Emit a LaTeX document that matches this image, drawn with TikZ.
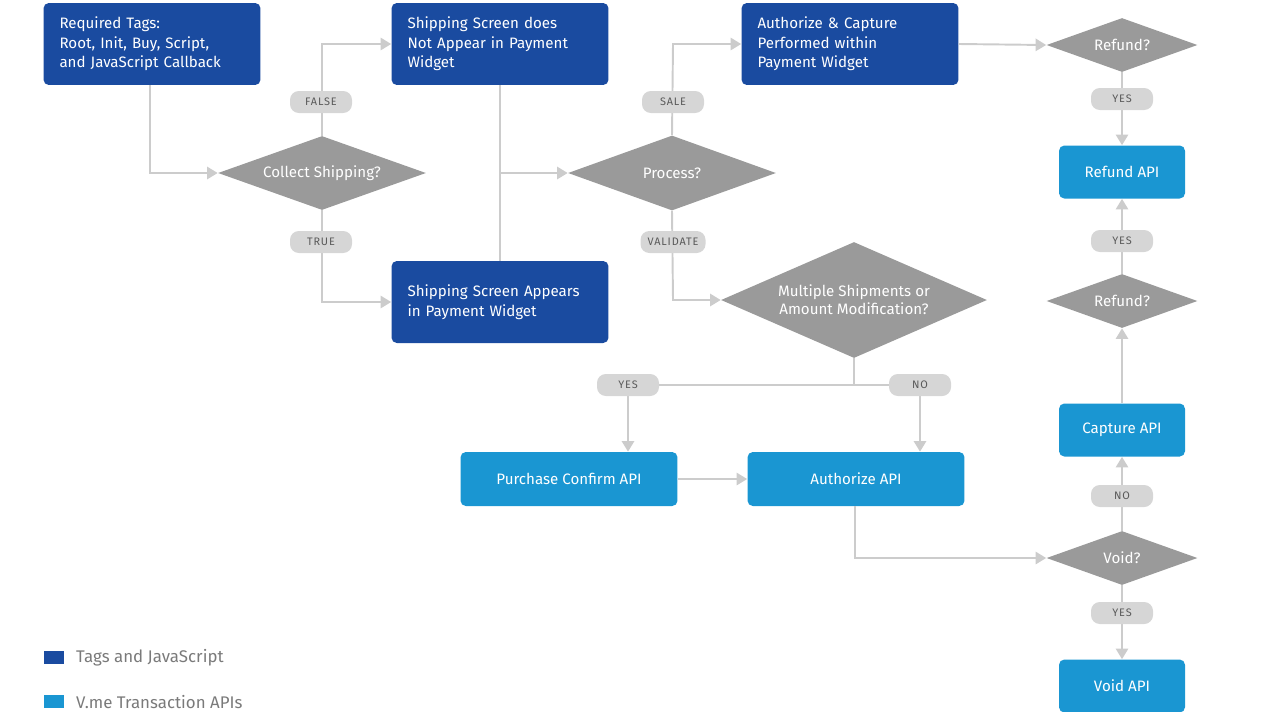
\documentclass[tikz,border=0pt]{standalone}
\usepackage{fontspec}
\setmainfont{Fira Sans}
\usetikzlibrary{shapes.geometric,arrows.meta}

\definecolor{tagblue}{HTML}{1A4BA0}
\definecolor{apiblue}{HTML}{1A96D2}
\definecolor{decgray}{HTML}{9A9A9A}
\definecolor{linegray}{HTML}{CCCCCC}
\definecolor{pillgray}{HTML}{D6D6D6}
\definecolor{pilltext}{HTML}{5A5A5A}
\definecolor{legtext}{HTML}{7A7A7A}

\tikzset{
  box/.style={rectangle, rounded corners=3pt, text=white, inner sep=0pt,
    font=\fontsize{8.6}{11.2}\selectfont},
  tagbox/.style={box, fill=tagblue, minimum width=4.34cm, minimum height=1.64cm,
    text width=3.7cm, align=left},
  apibox/.style={box, fill=apiblue, minimum width=4.34cm, minimum height=1.08cm, align=center},
  smallapi/.style={box, fill=apiblue, minimum width=2.52cm, minimum height=1.06cm, align=center},
  decision/.style={diamond, fill=decgray, text=white, inner sep=0pt, aspect=2.8,
    font=\fontsize{8.6}{10.4}\selectfont, align=center},
  pill/.style={rectangle, rounded corners=5pt, fill=pillgray, text=pilltext,
    minimum width=1.24cm, minimum height=0.44cm, inner xsep=4pt,
    font=\fontsize{6.2}{7}\selectfont\addfontfeatures{LetterSpace=8}},
  link/.style={draw=linegray, line width=1.1pt},
  flow/.style={link, -{Triangle[width=7pt,length=6pt]}},
  legend/.style={font=\fontsize{9.6}{12}\selectfont, text=legtext, anchor=west}
}

\begin{document}
\begin{tikzpicture}[x=0.02cm, y=-0.02cm]

	\useasboundingbox (0,0) rectangle (1263,711);

	% tag and javascript boxes
	\node[tagbox] (tags) at (152,44) {Required Tags:\\Root, Init, Buy, Script,\\and JavaScript Callback};
	\node[tagbox] (noship) at (500,44) {Shipping Screen does\\Not Appear in Payment\\Widget};
	\node[tagbox] (authcap) at (850,44) {Authorize \& Capture\\Performed within\\Payment Widget};
	\node[tagbox] (ship) at (500,302) {Shipping Screen Appears\\in Payment Widget};

	% decisions
	\node[decision, minimum width=4.16cm, minimum height=1.48cm] (collect) at (322,173) {Collect Shipping?};
	\node[decision, minimum width=4.16cm, minimum height=1.5cm] (process) at (672,173) {Process?};
	\node[decision, minimum width=5.32cm, minimum height=2.32cm] (multi) at (854,300) {Multiple Shipments or\\Amount Modification?};
	\node[decision, minimum width=3.02cm, minimum height=1.08cm] (refundA) at (1122,45) {Refund?};
	\node[decision, minimum width=3.02cm, minimum height=1.08cm] (refundB) at (1122,301) {Refund?};
	\node[decision, minimum width=3.02cm, minimum height=1.08cm] (void) at (1122,558) {Void?};

	% api boxes
	\node[apibox] (purchase) at (569,479) {Purchase Confirm API};
	\node[apibox] (authorize) at (856,479) {Authorize API};
	\node[smallapi] (refundapi) at (1122,172) {Refund API};
	\node[smallapi] (captureapi) at (1122,430) {Capture API};
	\node[smallapi] (voidapi) at (1122,686) {Void API};

	% helper coordinates
	\coordinate (tagsturn) at (150,173);
	\coordinate (falseturn) at (322,44);
	\coordinate (trueturn) at (322,302);
	\coordinate (joinmid) at (500,173);
	\coordinate (saleturn) at (673,44);
	\coordinate (valturn) at (673,300);
	\coordinate (split) at (854,385);
	\coordinate (yesturn) at (628,385);
	\coordinate (noturn) at (920,385);
	\coordinate (authturn) at (855,558);

	% connectors
	\draw[flow] (tags.south -| tagsturn) -- (tagsturn) -- (collect.west);
	\draw[flow] (collect.north) -- (falseturn) -- (noship.west);
	\draw[flow] (collect.south) -- (trueturn) -- (ship.west);
	\draw[link] (noship.south) -- (ship.north);
	\draw[flow] (joinmid) -- (process.west);
	\draw[flow] (process.north) -- (saleturn) -- (authcap.west);
	\draw[flow] (process.south) -- (valturn) -- (multi.west);
	\draw[flow] (authcap.east) -- (refundA.west);
	\draw[flow] (refundA.south) -- (refundapi.north);
	\draw[flow] (refundB.north) -- (refundapi.south);
	\draw[flow] (captureapi.north) -- (refundB.south);
	\draw[flow] (void.north) -- (captureapi.south);
	\draw[flow] (void.south) -- (voidapi.north);
	\draw[link] (multi.south) -- (split);
	\draw[link] (yesturn) -- (noturn);
	\draw[flow] (yesturn) -- (purchase.north -| yesturn);
	\draw[flow] (noturn) -- (authorize.north -| noturn);
	\draw[flow] (purchase.east) -- (authorize.west);
	\draw[flow] (authorize.south -| authturn) -- (authturn) -- (void.west);

	% labels
	\node[pill] (lfalse) at (321,102) {FALSE};
	\node[pill] (ltrue) at (321,242) {TRUE};
	\node[pill] (lsale) at (673,102) {SALE};
	\node[pill] (lvalidate) at (673,242) {VALIDATE};
	\node[pill] (lyesA) at (628,385) {YES};
	\node[pill] (lno) at (920,385) {NO};
	\node[pill] (lyesB) at (1122,99) {YES};
	\node[pill] (lyesC) at (1122,241) {YES};
	\node[pill] (lnoB) at (1122,496) {NO};
	\node[pill] (lyesD) at (1122,613) {YES};

	% legend
	\fill[tagblue] (44,651) rectangle (64,664);
	\fill[apiblue] (44,695) rectangle (64,708);
	\node[legend] (legtags) at (70,658) {Tags and JavaScript};
	\node[legend] (legapi) at (70,702) {V.me Transaction APIs};

\end{tikzpicture}
\end{document}
